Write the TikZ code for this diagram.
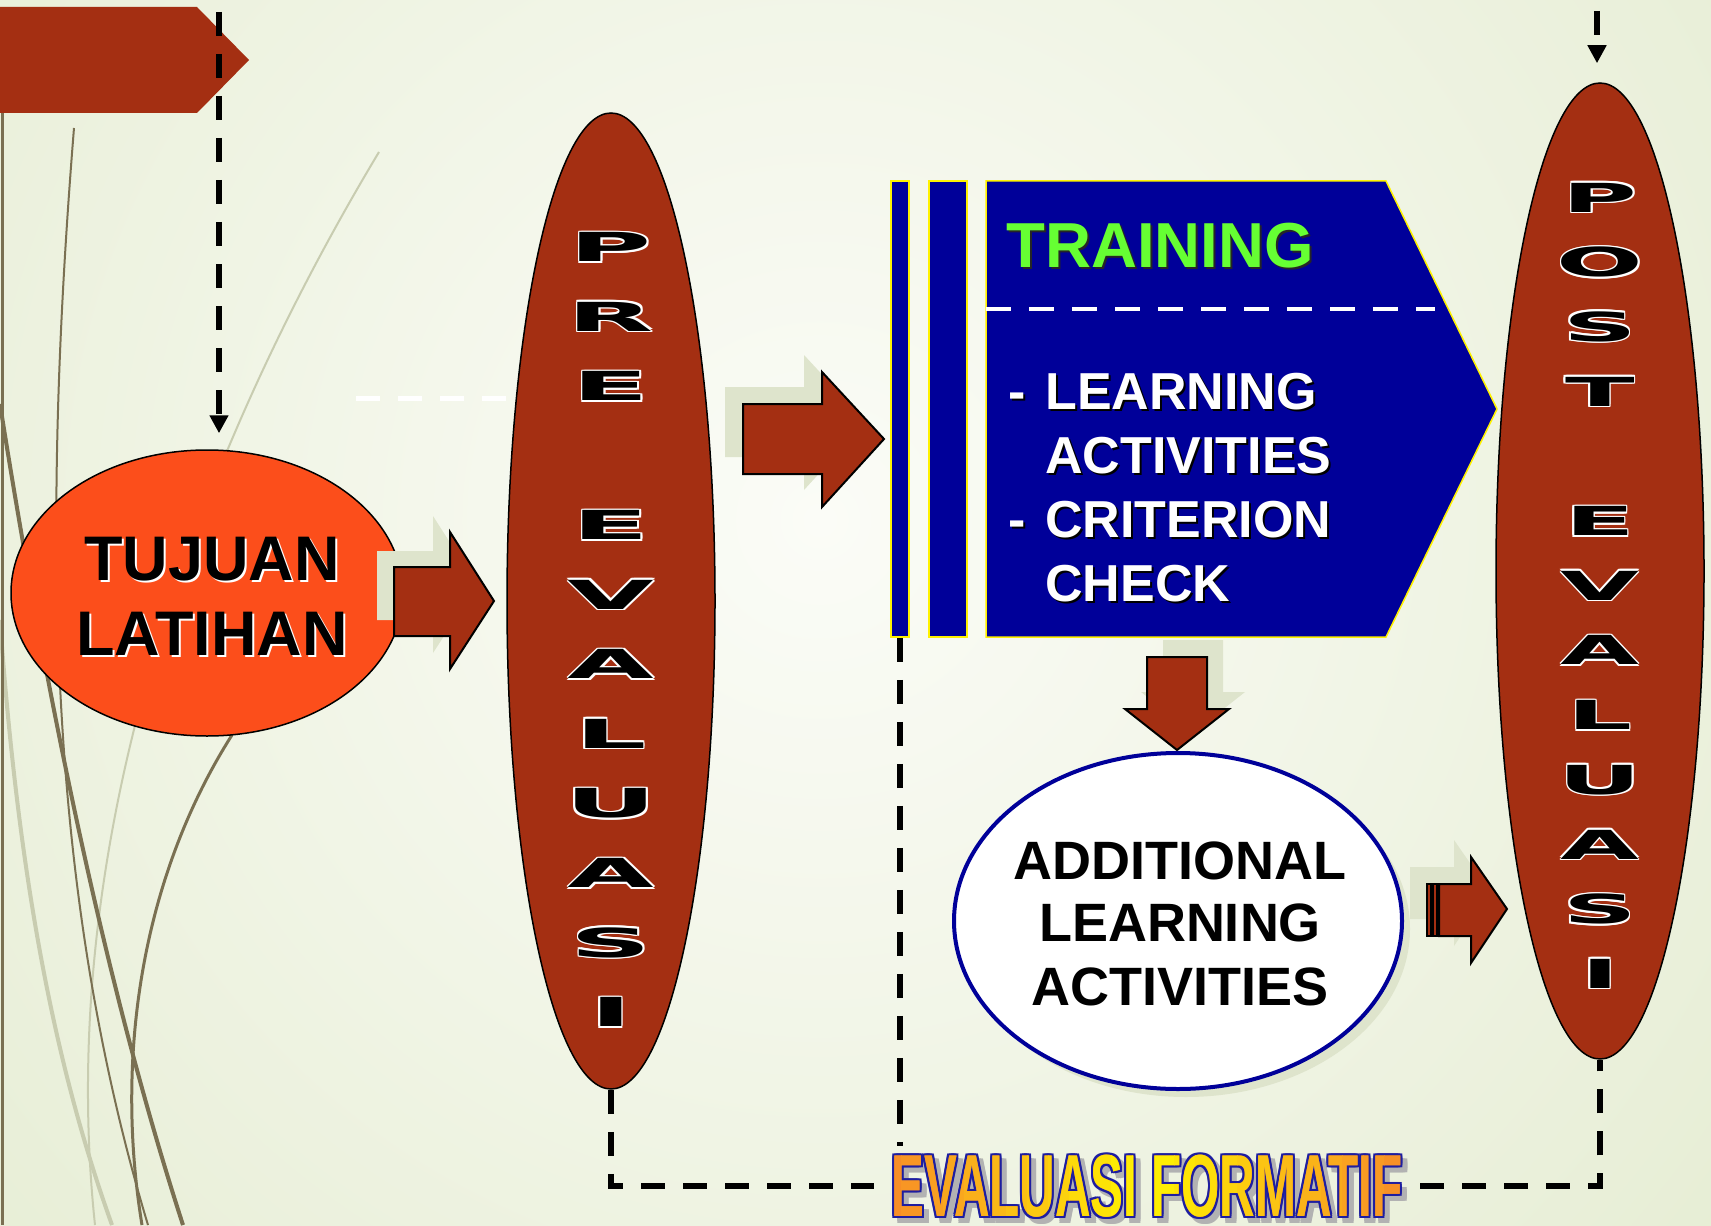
\documentclass[tikz,border=0pt]{standalone}
\usepackage{fontspec}
\setmainfont{Liberation Sans}
\newfontfamily\dejab{DejaVu Sans}
\usepackage{graphicx}
\usetikzlibrary{shapes.geometric,arrows.meta}
\definecolor{bgout}{RGB}{220,230,195}
\definecolor{bgin}{RGB}{251,252,247}
\definecolor{redc}{RGB}{164,47,18}
\definecolor{tujc}{RGB}{252,78,27}
\definecolor{navy}{RGB}{0,0,153}
\definecolor{shadc}{RGB}{222,228,204}
\definecolor{darkl}{RGB}{122,112,82}
\definecolor{lightl}{RGB}{200,204,176}
\definecolor{grn}{RGB}{102,255,51}
\definecolor{orgE}{RGB}{247,140,40}
\definecolor{yel}{RGB}{255,245,0}
\definecolor{navyO}{RGB}{30,30,160}
% shadowed text: #1 shadow colour, #2 offset, #3 text colour, #4 text
\newcommand\shd[4]{\rlap{\kern#2\raisebox{-#2}{\textcolor{#1}{#4}}}\textcolor{#3}{#4}}
% outlined text: #1 x offset, #2 y offset, #3 outline colour, #4 fill colour, #5 text
\newcommand\olt[5]{%
 \rlap{\kern#1\textcolor{#3}{#5}}\rlap{\kern-#1\textcolor{#3}{#5}}%
 \rlap{\raisebox{#2}{\textcolor{#3}{#5}}}\rlap{\raisebox{-#2}{\textcolor{#3}{#5}}}%
 \rlap{\kern#1\raisebox{#2}{\textcolor{#3}{#5}}}\rlap{\kern-#1\raisebox{#2}{\textcolor{#3}{#5}}}%
 \rlap{\kern#1\raisebox{-#2}{\textcolor{#3}{#5}}}\rlap{\kern-#1\raisebox{-#2}{\textcolor{#3}{#5}}}%
 \textcolor{#4}{#5}}
\newcommand\wlet[2]{\scalebox{#1}[1]{\olt{0.28pt}{0.75pt}{white}{black}{#2}}}
\def\arrowA{(394,567) -- (450,567) -- (450,532) -- (494,601) -- (450,669) -- (450,636) -- (394,636) -- cycle}
\def\arrowB{(743,404) -- (822,404) -- (822,372) -- (884,439) -- (822,507) -- (822,474) -- (743,474) -- cycle}
\def\arrowC{(1147,657) -- (1207,657) -- (1207,709) -- (1229,709) -- (1177,750) -- (1125,709) -- (1147,709) -- cycle}
\def\arrowD{(1439,884) -- (1471,884) -- (1471,857) -- (1507,909) -- (1471,963) -- (1471,936) -- (1439,936) -- cycle}
\def\arrowDs{(1427,884) -- (1471,884) -- (1471,857) -- (1507,909) -- (1471,963) -- (1471,936) -- (1427,936) -- cycle}
\begin{document}
\begin{tikzpicture}[x=0.5pt,y=-0.5pt,
  barrow/.style={fill=redc,draw=black,line width=1pt,line join=miter},
  ashadow/.style={fill=shadc},
  kdash/.style={draw=black,line width=2.8pt,dash pattern=on 12pt off 9pt},
  evell/.style={ellipse,draw=black,line width=0.75pt,fill=redc,inner sep=0pt,minimum width=104pt,minimum height=488pt},
  lett/.style={inner sep=0pt,font=\dejab\fontsize{20}{20}\selectfont\bfseries},
  txt/.style={inner sep=0pt},
  tip/.style={-{Triangle[width=9pt,length=9pt]}}]
\useasboundingbox (0,0) rectangle (1711,1225);
% background
\fill[bgout] (0,0) rectangle (1711,1225);
\begin{scope}
  \clip (0,0) rectangle (1711,1225);
  \shade[inner color=bgin,outer color=bgout] (820,520) circle (1750);
\end{scope}
% decorative curves
\draw[lightl,line width=2pt] (0,620) .. controls (20,900) and (60,1080) .. (112,1225);
\draw[lightl,line width=1pt] (379,152) .. controls (230,400) and (50,800) .. (95,1225);
\draw[darkl,line width=1.5pt] (2,113) -- (2,1225);
\draw[darkl,line width=2pt] (0,404) .. controls (50,720) and (110,1000) .. (183,1225);
\draw[darkl,line width=1pt] (74,128) .. controls (40,550) and (50,900) .. (148,1225);
\draw[darkl,line width=1.5pt] (232,735) .. controls (140,880) and (115,1060) .. (142,1225);
% top-left banner
\fill[redc] (0,7) -- (197,7) -- (249,60) -- (197,113) -- (0,113) -- cycle;
% white dashed fragment
\draw[white,line width=2.5pt,dash pattern=on 12pt off 9pt] (356,398) -- (512,398);
% TUJUAN LATIHAN
\node[ellipse,draw=black,line width=0.75pt,fill=tujc,inner sep=0pt,minimum width=196pt,minimum height=143pt] (tujuan) at (207,593) {};
\node[txt,anchor=base,font=\fontsize{31.5}{31.5}\selectfont\bfseries] (tj1) at (212,580) {\shd{white}{1pt}{black}{TUJUAN}};
\node[txt,anchor=base,font=\fontsize{31.5}{31.5}\selectfont\bfseries] (tj2) at (212,655) {\shd{white}{1pt}{black}{LATIHAN}};
\coordinate (tjtop) at (219,12);
\draw[kdash,tip,shorten >=8pt] (tjtop) -- (tjtop |- tujuan.north);
% arrow A
\fill[ashadow,shift={(-17,-16)}] \arrowA;
\draw[barrow] \arrowA;
% PRE EVALUASI
\node[evell] (pre) at (611,601) {};
\foreach \l [count=\i from 0] in {P,R,E,{},E,V,A,L,U,A,S,I}
  \node[lett] (prel\i) at (611,247+\i*69.55) {\wlet{2.8}{\l}};
% arrow B
\fill[ashadow,shift={(-18,-17)}] \arrowB;
\draw[barrow] \arrowB;
% TRAINING block
\node[rectangle,fill=navy,draw=yellow,line width=0.75pt,inner sep=0pt,minimum width=9pt,minimum height=228pt] (bar1) at (900,409) {};
\node[rectangle,fill=navy,draw=yellow,line width=0.75pt,inner sep=0pt,minimum width=19pt,minimum height=228pt] (bar2) at (948,409) {};
\filldraw[fill=navy,draw=yellow,line width=0.75pt] (986,181) -- (1386,181) -- (1497,409) -- (1386,637) -- (986,637) -- cycle;
\draw[white,line width=2pt,dash pattern=on 12.25pt off 9.25pt] (986,309) -- (1435,309);
\node[txt,anchor=base west,font=\fontsize{31.8}{31.8}\selectfont\bfseries] (trn) at (1006,267) {\shd{black!85}{1pt}{grn}{TRAINING}};
\begin{scope}[every node/.style={txt,anchor=base west,font=\fontsize{26}{26}\selectfont\bfseries}]
\node (da1) at (1008,409) {\shd{black}{1pt}{white}{-}};
\node (tl1) at (1045,409) {\shd{black}{1pt}{white}{LEARNING}};
\node (tl2) at (1045,473) {\shd{black}{1pt}{white}{ACTIVITIES}};
\node (da2) at (1008,537) {\shd{black}{1pt}{white}{-}};
\node (tl3) at (1045,537) {\shd{black}{1pt}{white}{CRITERION}};
\node (tl4) at (1045,601) {\shd{black}{1pt}{white}{CHECK}};
\end{scope}
% arrow C (down)
\fill[ashadow,shift={(16,-17)}] \arrowC;
\draw[barrow] \arrowC;
% ADDITIONAL LEARNING ACTIVITIES
\fill[shadc] (1186,929) ellipse [x radius=224,y radius=168];
\node[ellipse,draw=navy,line width=2pt,fill=white,inner sep=0pt,minimum width=224pt,minimum height=168pt] (add) at (1178,921) {};
\node[txt,anchor=base,font=\fontsize{27}{27}\selectfont\bfseries] (ad1) at (1180,879) {\shd{white}{1pt}{black}{ADDITIONAL}};
\node[txt,anchor=base,font=\fontsize{27}{27}\selectfont\bfseries] (ad2) at (1180,941) {\shd{white}{1pt}{black}{LEARNING}};
\node[txt,anchor=base,font=\fontsize{27}{27}\selectfont\bfseries] (ad3) at (1180,1005) {\shd{white}{1pt}{black}{ACTIVITIES}};
% arrow D (striped)
\fill[ashadow,shift={(-17,-17)}] \arrowDs;
\draw[barrow] (1427,884) rectangle (1431,936);
\draw[barrow] (1433,884) rectangle (1437,936);
\draw[barrow] \arrowD;
% POST EVALUASI
\node[evell] (post) at (1600,571) {};
\foreach \l [count=\i from 0] in {P,O,S,T,{},E,V,A,L,U,A,S,I}
  \node[lett] (postl\i) at (1600,197.5+\i*64.7) {\wlet{2.55}{\l}};
\coordinate (pstop) at (1597,11);
\draw[kdash,tip,shorten >=9.5pt] (pstop) -- (pstop |- post.north);
% EVALUASI FORMATIF
\node[txt,anchor=base,inner xsep=9pt,font=\fontsize{44}{44}\selectfont\bfseries] (fshadow) at (1152,1221) {\olt{1pt}{1pt}{black!30}{black!30}{\scalebox{0.56}[1]{EVALUASI FORMATIF}}};
\node[txt,anchor=base,inner xsep=9pt,font=\fontsize{44}{44}\selectfont\bfseries] (formatif) at (1147,1216) {\olt{1pt}{1pt}{navyO}{orgE}{\scalebox{0.56}[1]{EVALUASI FORMATIF}}};
\foreach \i in {0,...,25} {
  \pgfmathsetmacro\xa{880+\i*21}
  \pgfmathtruncatemacro\p{max(0,min(100,100-abs(\xa+10.5-1147)*0.38))}
  \begin{scope}
    \clip (\xa,1140) rectangle (\xa+21.5,1225);
    \node[txt,anchor=base,inner xsep=9pt,font=\fontsize{44}{44}\selectfont\bfseries,text=yel!\p!orgE] (fs\i) at (1147,1216) {\scalebox{0.56}[1]{EVALUASI FORMATIF}};
  \end{scope}
}
% dashed connectors
\coordinate (vend) at (898,1146);
\draw[kdash] (bar1.south) -- (bar1.south |- vend);
\draw[kdash] (pre.south) |- (formatif.west);
\draw[kdash] (formatif.east) -| (post.south);
\end{tikzpicture}
\end{document}
